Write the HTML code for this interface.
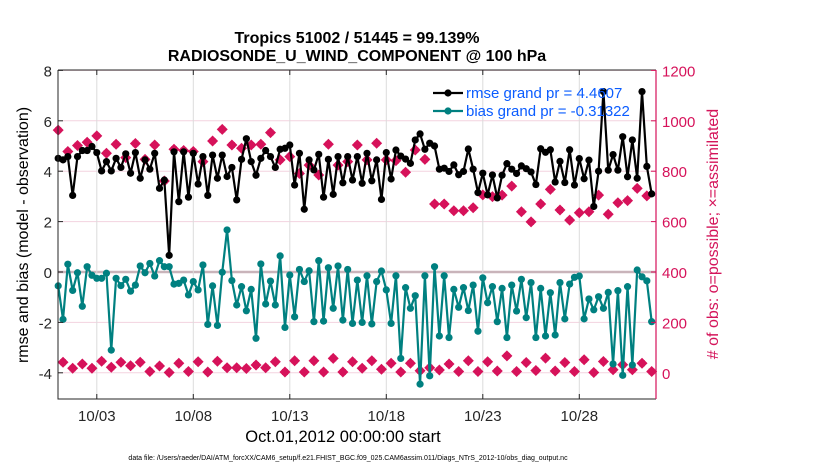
<!DOCTYPE html>
<html><head><meta charset="utf-8"><style>
html,body{margin:0;padding:0;background:#fff;}
svg{display:block;font-family:"Liberation Sans",sans-serif;}
</style></head><body>
<svg id="chart" width="830" height="470" viewBox="0 0 830 470" xmlns="http://www.w3.org/2000/svg">
<text x="357" y="43" font-size="16" font-weight="bold" text-anchor="middle">Tropics 51002 / 51445 = 99.139%</text>
<text x="357" y="61" font-size="16" font-weight="bold" text-anchor="middle">RADIOSONDE_U_WIND_COMPONENT @ 100 hPa</text>
<g id="grid"></g>
<g id="marks"></g>
<g id="axes"></g>
<text transform="translate(28,235) rotate(-90)" font-size="16" text-anchor="middle">rmse and bias (model - observation)</text>
<text transform="translate(718,234) rotate(-90)" font-size="16" fill="#d4145a" text-anchor="middle"># of obs: o=possible; ×=assimilated</text>
<text x="343" y="442" font-size="16.5" text-anchor="middle">Oct.01,2012 00:00:00 start</text>
<text x="348" y="460" font-size="7" text-anchor="middle">data file: /Users/raeder/DAI/ATM_forcXX/CAM6_setup/f.e21.FHIST_BGC.f09_025.CAM6assim.011/Diags_NTrS_2012-10/obs_diag_output.nc</text>
<g id="legend"></g>
</svg>
<script>
const rmse=[4.51,4.45,4.58,3.04,4.58,4.82,4.82,4.98,4.74,4.01,4.38,4.01,4.51,4.15,4.69,3.92,4.74,3.72,4.45,4.08,4.71,3.32,3.65,0.66,4.77,2.79,4.77,2.97,4.71,3.49,4.58,
3.04,4.64,3.72,4.64,3.79,4.15,2.86,4.47,5.29,4.38,3.84,4.51,4.82,4.58,4.15,4.87,4.91,5.04,3.45,4.71,2.49,4.45,4.05,4.67,2.97,4.47,3.08,4.58,3.54,4.58,
3.65,4.58,3.52,4.71,3.62,4.45,2.88,4.74,3.69,4.84,4.60,4.48,4.31,5.24,5.48,4.87,5.11,5.0,4.08,4.12,3.99,4.25,3.86,3.99,4.88,4.08,3.15,3.92,3.06,
3.85,2.94,3.84,4.30,4.08,3.91,4.21,4.10,3.97,3.47,4.89,4.75,4.85,3.57,4.39,3.55,4.85,3.45,4.5,3.7,4.44,2.6,4.0,7.16,4.04,4.66,4.04,5.37,3.78,5.24,3.72,7.16,4.19,3.1];
const bias=[-0.55,-1.88,0.31,-0.73,-0.03,-1.36,0.21,-0.13,-0.25,-0.25,-0.05,-3.1,-0.25,-0.54,-0.29,-0.76,-0.52,0.24,-0.03,0.34,-0.16,0.45,0.21,0.21,-0.48,-0.45,-0.32,-0.91,-0.38,-0.71,0.28,
-2.08,-0.55,-2.12,-0.01,1.67,-0.34,-1.31,-0.58,-1.54,-0.69,-2.63,0.32,-1.27,-0.36,-1.31,0.64,-2.2,-0.12,-1.78,0.1,-0.38,0.05,-1.97,0.45,-1.95,0.17,-1.44,0.24,-1.91,0.1,
-2.04,-0.32,-2.0,-0.15,-2.06,-0.38,0.04,-0.71,-2.04,-0.15,-3.43,-0.62,-1.44,-0.94,-4.45,-0.15,-4.12,0.21,-2.54,-0.15,-2.6,-0.69,-1.4,-0.62,-1.53,-0.52,-2.35,-0.23,-1.22,
-0.58,-1.97,-0.65,-2.6,-0.52,-1.55,-0.29,-1.81,-0.42,-2.6,-0.65,-2.54,-0.82,-2.5,-0.42,-1.86,-0.48,-0.21,-0.16,-1.86,-1.07,-1.5,-0.98,-1.44,-0.81,-3.65,-0.74,-4.1,-0.58,-3.69,0.08,-0.19,-0.35,-1.97];
const obsPossible=[963,878,902,915,940,871,907,854,910,847,904,761,887,882,878,838,
920,966,904,891,904,907,953,845,858,791,824,785,907,824,838,
904,845,911,845,842,796,884,847,670,670,643,643,655,706,
699,705,741,639,599,670,728,646,606,635,639,705,629,675,683,732,702];
const obsAssim=[42,18,35,18,46,22,42,28,42,5,27,1,38,5,44,3,
46,20,20,17,31,20,44,3,48,3,48,3,57,3,44,
18,48,14,38,3,38,8,20,11,35,5,48,5,44,
7,67,5,41,9,58,7,41,5,52,1,45,12,32,12,38,5];
const xTickDays=[2,7,12,17,22,27];
const xTickLabels=["10/03","10/08","10/13","10/18","10/23","10/28"];
const yLeftTicks=[-4,-2,0,2,4,6,8];
const yRightTicks=[0,200,400,600,800,1000,1200];

const NS="http://www.w3.org/2000/svg";
const L=58,R=656,T=70,B=399;
const dayStart=-0.01, dayPx=19.3, stepDays=0.25;
function xDay(d){return L+(d-dayStart)*dayPx;}
function xIdx(i){return xDay(i*stepDays);}
function yL(v){return 272-v*25.2;}
function yR(v){return yL(v/100-4);}
function el(tag,attrs,parent){const e=document.createElementNS(NS,tag);for(const k in attrs)e.setAttribute(k,attrs[k]);parent.appendChild(e);return e;}
const grid=document.getElementById('grid'),marks=document.getElementById('marks'),axes=document.getElementById('axes'),legend=document.getElementById('legend');

yLeftTicks.forEach(v=>{const g=el('line',{x1:L,x2:R,y1:yL(v),y2:yL(v),stroke:v===0?'#c9b4ba':'#f3d3df','stroke-width':v===0?2.5:1},grid);

});
xTickDays.forEach(d=>{const g=el('line',{x1:xDay(d),x2:xDay(d),y1:T,y2:B,stroke:'#dcdcdc','stroke-width':1},grid);

});

const pink='#d6125a';
function diamond(x,y,parent,name){const p=el('path',{d:`M${x} ${y-5.5}L${x+5.5} ${y}L${x} ${y+5.5}L${x-5.5} ${y}Z M${x-3} ${y-3}h6v6h-6Z`,fill:pink},parent);

}
obsPossible.forEach((v,k)=>diamond(xIdx(2*k),yR(v),marks,'obs-possible-point'));
obsAssim.forEach((v,k)=>diamond(xIdx(2*k+1),yR(v),marks,'obs-assimilated-point'));

function series(arr,color,name){
 const pts=arr.map((v,i)=>xIdx(i).toFixed(2)+','+yL(v).toFixed(2)).join(' ');
 const pl=el('polyline',{points:pts,fill:'none',stroke:color,'stroke-width':2.2,'stroke-linejoin':'round'},marks);
 
 
 arr.forEach((v,i)=>{const c=el('circle',{cx:xIdx(i),cy:yL(v),r:3.6,fill:color},marks);
 
 });
}
series(rmse,'#000','rmse');
series(bias,'#008080','bias');

const fr=el('path',{d:`M${L} ${T}H${R} M${L} ${T}V${B}H${R}`,stroke:'#262626','stroke-width':1,fill:'none'},axes);


const ra=el('line',{x1:R,x2:R,y1:T,y2:B,stroke:pink,'stroke-width':1.2},axes);


xTickDays.forEach((d,k)=>{
 el('line',{x1:xDay(d),x2:xDay(d),y1:B,y2:B-5,stroke:'#262626'},axes);
 el('line',{x1:xDay(d),x2:xDay(d),y1:T,y2:T+5,stroke:'#262626'},axes);
 const t=el('text',{x:xDay(d),y:B+22,'font-size':15,'text-anchor':'middle',fill:'#262626'},axes);t.textContent=xTickLabels[k];
 
 
});
yLeftTicks.forEach(v=>{
 el('line',{x1:L,x2:L+5,y1:yL(v),y2:yL(v),stroke:'#262626'},axes);
 const t=el('text',{x:L-6,y:yL(v)+6,'font-size':15,'text-anchor':'end',fill:'#262626'},axes);t.textContent=String(v);
 
 
});
yRightTicks.forEach(v=>{
 el('line',{x1:R,x2:R-5,y1:yR(v),y2:yR(v),stroke:pink},axes);
 const t=el('text',{x:R+6,y:yR(v)+6,'font-size':15,'text-anchor':'start',fill:pink},axes);t.textContent=String(v);
 
 
});

[['rmse grand pr = 4.4607','#000',93,'legend-entry-rmse'],['bias grand pr = -0.31322','#008080',111,'legend-entry-bias']].forEach(e=>{
 const g=el('g',{},legend);
 
 
 el('line',{x1:433,x2:463,y1:e[2],y2:e[2],stroke:e[1],'stroke-width':2.2},g);
 el('circle',{cx:448,cy:e[2],r:3.6,fill:e[1]},g);
 const t=el('text',{x:466,y:e[2]+5,'font-size':15,fill:'#0a5cff'},g);t.textContent=e[0];
});
</script>
</body></html>
